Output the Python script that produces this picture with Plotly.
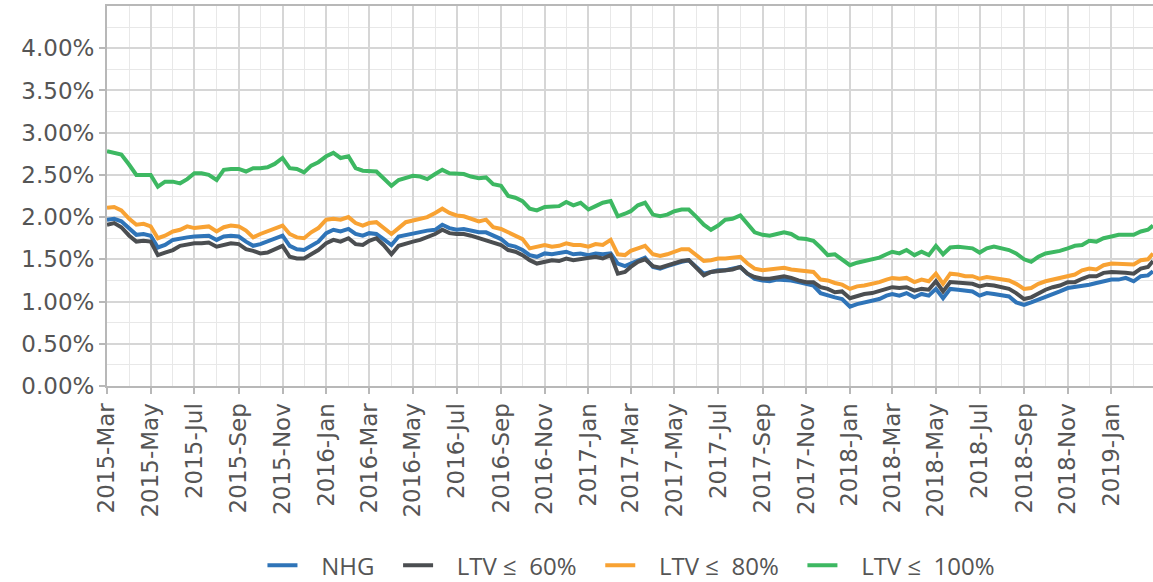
import pandas as pd
import plotly.graph_objects as go

# sample dates: 1st, 11th, 21st of each month, Mar 2015 .. Feb 2019 (+ end of Feb 2019)
months = pd.date_range("2015-03-01", "2019-02-01", freq="MS")
dates = [m + pd.Timedelta(days=d) for m in months for d in (0, 10, 20)] + [pd.Timestamp("2019-02-28")]

nhg = [1.97, 1.98, 1.95, 1.87, 1.79, 1.80, 1.78, 1.64, 1.67, 1.73, 1.75, 1.76, 1.77, 1.77, 1.78, 1.73, 1.77, 1.78, 1.77, 1.71,
       1.66, 1.68, 1.71, 1.75, 1.78, 1.66, 1.62, 1.61, 1.66, 1.71, 1.81, 1.85, 1.83, 1.86, 1.80, 1.78, 1.81,
       1.80, 1.74, 1.67, 1.77, 1.79, 1.80, 1.82, 1.84, 1.85, 1.91, 1.87, 1.85, 1.86, 1.84, 1.82, 1.82, 1.78, 1.74, 1.67, 1.65,
       1.61, 1.55, 1.53, 1.57, 1.56, 1.57, 1.59, 1.56, 1.57, 1.55, 1.57, 1.56, 1.57, 1.45, 1.42, 1.45,
       1.48, 1.52, 1.41, 1.39, 1.42, 1.45, 1.47, 1.49, 1.40, 1.33, 1.35, 1.37, 1.37, 1.39, 1.41, 1.33, 1.27, 1.25, 1.24, 1.26,
       1.26, 1.25, 1.23, 1.21, 1.19, 1.10, 1.07, 1.05, 1.03, 0.94, 0.97, 0.99, 1.00, 1.03, 1.07,
       1.09, 1.07, 1.10, 1.05, 1.09, 1.07, 1.15, 1.04, 1.15, 1.14, 1.13, 1.12, 1.07, 1.10, 1.09, 1.08, 1.06, 0.99, 0.96, 0.99,
       1.02, 1.05, 1.08, 1.12, 1.16, 1.17, 1.18, 1.20, 1.22, 1.24, 1.26, 1.26, 1.28, 1.24, 1.30, 1.31, 1.36]

ltv60 = [1.91, 1.93, 1.88, 1.78, 1.71, 1.72, 1.71, 1.55, 1.58, 1.61, 1.66, 1.68, 1.69, 1.69, 1.70, 1.65, 1.67, 1.69, 1.68, 1.62,
         1.60, 1.57, 1.58, 1.62, 1.66, 1.53, 1.51, 1.51, 1.56, 1.61, 1.69, 1.73, 1.71, 1.75, 1.68, 1.67, 1.72,
         1.75, 1.67, 1.56, 1.66, 1.69, 1.71, 1.73, 1.76, 1.80, 1.85, 1.81, 1.80, 1.80, 1.78, 1.75, 1.72, 1.69, 1.67, 1.61, 1.59,
         1.55, 1.49, 1.45, 1.47, 1.49, 1.48, 1.51, 1.49, 1.50, 1.51, 1.53, 1.51, 1.55, 1.33, 1.35, 1.41,
         1.47, 1.50, 1.42, 1.40, 1.43, 1.45, 1.48, 1.49, 1.40, 1.31, 1.35, 1.36, 1.37, 1.38, 1.41, 1.33, 1.29, 1.27, 1.27, 1.28,
         1.30, 1.28, 1.25, 1.23, 1.23, 1.17, 1.15, 1.11, 1.12, 1.04, 1.07, 1.09, 1.10, 1.12, 1.15,
         1.17, 1.16, 1.17, 1.13, 1.15, 1.14, 1.24, 1.12, 1.23, 1.22, 1.22, 1.21, 1.18, 1.20, 1.19, 1.17, 1.15, 1.10, 1.03, 1.05,
         1.10, 1.14, 1.17, 1.19, 1.23, 1.23, 1.27, 1.30, 1.30, 1.34, 1.35, 1.35, 1.34, 1.33, 1.39, 1.41, 1.48]

ltv80 = [2.11, 2.12, 2.08, 1.98, 1.91, 1.92, 1.89, 1.75, 1.78, 1.83, 1.85, 1.89, 1.87, 1.88, 1.89, 1.83, 1.88, 1.90, 1.89, 1.84,
         1.76, 1.80, 1.83, 1.86, 1.90, 1.80, 1.76, 1.75, 1.82, 1.87, 1.97, 1.98, 1.97, 2.00, 1.93, 1.90, 1.93,
         1.94, 1.88, 1.80, 1.87, 1.94, 1.96, 1.98, 2.00, 2.05, 2.10, 2.05, 2.02, 2.01, 1.98, 1.95, 1.97, 1.88, 1.86, 1.82, 1.78,
         1.74, 1.63, 1.65, 1.67, 1.65, 1.66, 1.69, 1.67, 1.67, 1.65, 1.68, 1.67, 1.73, 1.56, 1.55, 1.60,
         1.63, 1.66, 1.56, 1.54, 1.56, 1.59, 1.62, 1.62, 1.55, 1.48, 1.49, 1.51, 1.51, 1.52, 1.53, 1.45, 1.39, 1.37, 1.38, 1.40,
         1.40, 1.38, 1.37, 1.37, 1.35, 1.26, 1.25, 1.22, 1.20, 1.15, 1.18, 1.19, 1.21, 1.23, 1.26,
         1.28, 1.27, 1.28, 1.23, 1.26, 1.24, 1.33, 1.21, 1.33, 1.32, 1.30, 1.30, 1.27, 1.29, 1.28, 1.26, 1.25, 1.21, 1.15, 1.16,
         1.21, 1.24, 1.26, 1.28, 1.31, 1.32, 1.37, 1.39, 1.38, 1.43, 1.45, 1.45, 1.44, 1.44, 1.49, 1.50, 1.57]

ltv100 = [2.78, 2.76, 2.74, 2.62, 2.50, 2.50, 2.50, 2.36, 2.42, 2.42, 2.40, 2.45, 2.52, 2.52, 2.50, 2.44, 2.56, 2.57, 2.57, 2.54,
          2.58, 2.58, 2.59, 2.63, 2.70, 2.58, 2.57, 2.53, 2.61, 2.65, 2.72, 2.76, 2.70, 2.72, 2.58, 2.55, 2.54,
          2.54, 2.46, 2.37, 2.44, 2.47, 2.49, 2.48, 2.45, 2.51, 2.56, 2.52, 2.51, 2.51, 2.48, 2.46, 2.47, 2.39, 2.37, 2.25, 2.23,
          2.19, 2.10, 2.08, 2.12, 2.12, 2.13, 2.18, 2.14, 2.17, 2.09, 2.13, 2.17, 2.19, 2.01, 2.04, 2.07,
          2.14, 2.17, 2.03, 2.01, 2.03, 2.07, 2.09, 2.09, 2.00, 1.91, 1.85, 1.90, 1.97, 1.98, 2.02, 1.92, 1.82, 1.79, 1.78, 1.80,
          1.82, 1.80, 1.75, 1.74, 1.72, 1.64, 1.55, 1.56, 1.50, 1.43, 1.46, 1.48, 1.50, 1.52, 1.56,
          1.59, 1.57, 1.61, 1.55, 1.59, 1.55, 1.66, 1.56, 1.64, 1.65, 1.64, 1.63, 1.58, 1.63, 1.65, 1.63, 1.61, 1.57, 1.50, 1.47,
          1.53, 1.57, 1.58, 1.60, 1.63, 1.66, 1.67, 1.72, 1.71, 1.75, 1.77, 1.79, 1.79, 1.79, 1.83, 1.85, 1.90]

series_names = ["NHG", "LTV ≤  60%", "LTV ≤  80%", "LTV ≤  100%"]
series_values = [nhg, ltv60, ltv80, ltv100]
series_colors = ["#2f74b8", "#4b4e51", "#f8a233", "#3db862"]

y_ticks = [0, 0.5, 1.0, 1.5, 2.0, 2.5, 3.0, 3.5, 4.0]
y_tick_labels = ["0.00%", "0.50%", "1.00%", "1.50%", "2.00%", "2.50%", "3.00%", "3.50%", "4.00%"]

NB = "\u00a0"

def legend_label(name):
    # padding so the legend spacing matches the reference
    return NB * 3 + name.replace("≤  ", "≤" + NB * 2) + NB * 3

fig = go.Figure()
for name, vals, col in zip(series_names, series_values, series_colors):
    fig.add_trace(go.Scatter(x=dates, y=vals, mode="lines", name=legend_label(name),
                             line=dict(color=col, width=4)))

tick_font = dict(family="DejaVu Sans", size=23, color="#555555")

fig.update_layout(
    width=1153, height=582,
    margin=dict(l=107, r=0, t=6, b=196, autoexpand=False),
    paper_bgcolor="white", plot_bgcolor="white",
    showlegend=True,
    legend=dict(orientation="h", x=0.51, xanchor="center", yref="container", y=0.028, yanchor="middle",
                font=dict(family="Open Sans", size=24, color="#555555")),
)
fig.update_xaxes(
    type="date", range=["2015-03-01", "2019-02-28"],
    tick0="2015-03-01", dtick="M2", tickformat="%Y-%b", tickangle=-90,
    tickfont=tick_font, automargin=False,
    showgrid=True, gridcolor="#d6d6d6", gridwidth=1.5,
    minor=dict(dtick="M1", showgrid=True, gridcolor="#e8e8e8", gridwidth=1),
    showline=True, linecolor="#b8b8b8", linewidth=2, mirror=True,
    ticks="outside", ticklen=6, tickcolor="#b8b8b8", tickwidth=1.5,
    zeroline=False,
)
fig.update_yaxes(
    range=[0, 4.5], tickvals=y_ticks, ticktext=y_tick_labels,
    tickfont=tick_font, automargin=False,
    showgrid=True, gridcolor="#d6d6d6", gridwidth=1.5,
    minor=dict(dtick=0.25, tick0=0, showgrid=True, gridcolor="#e8e8e8", gridwidth=1),
    showline=True, linecolor="#b8b8b8", linewidth=2,
    ticks="outside", ticklen=6, tickcolor="#b8b8b8", tickwidth=1.5,
    zeroline=False,
)

fig.write_html("out.html", post_script="document.body.style.margin='0';",
               config={"displayModeBar": False})
